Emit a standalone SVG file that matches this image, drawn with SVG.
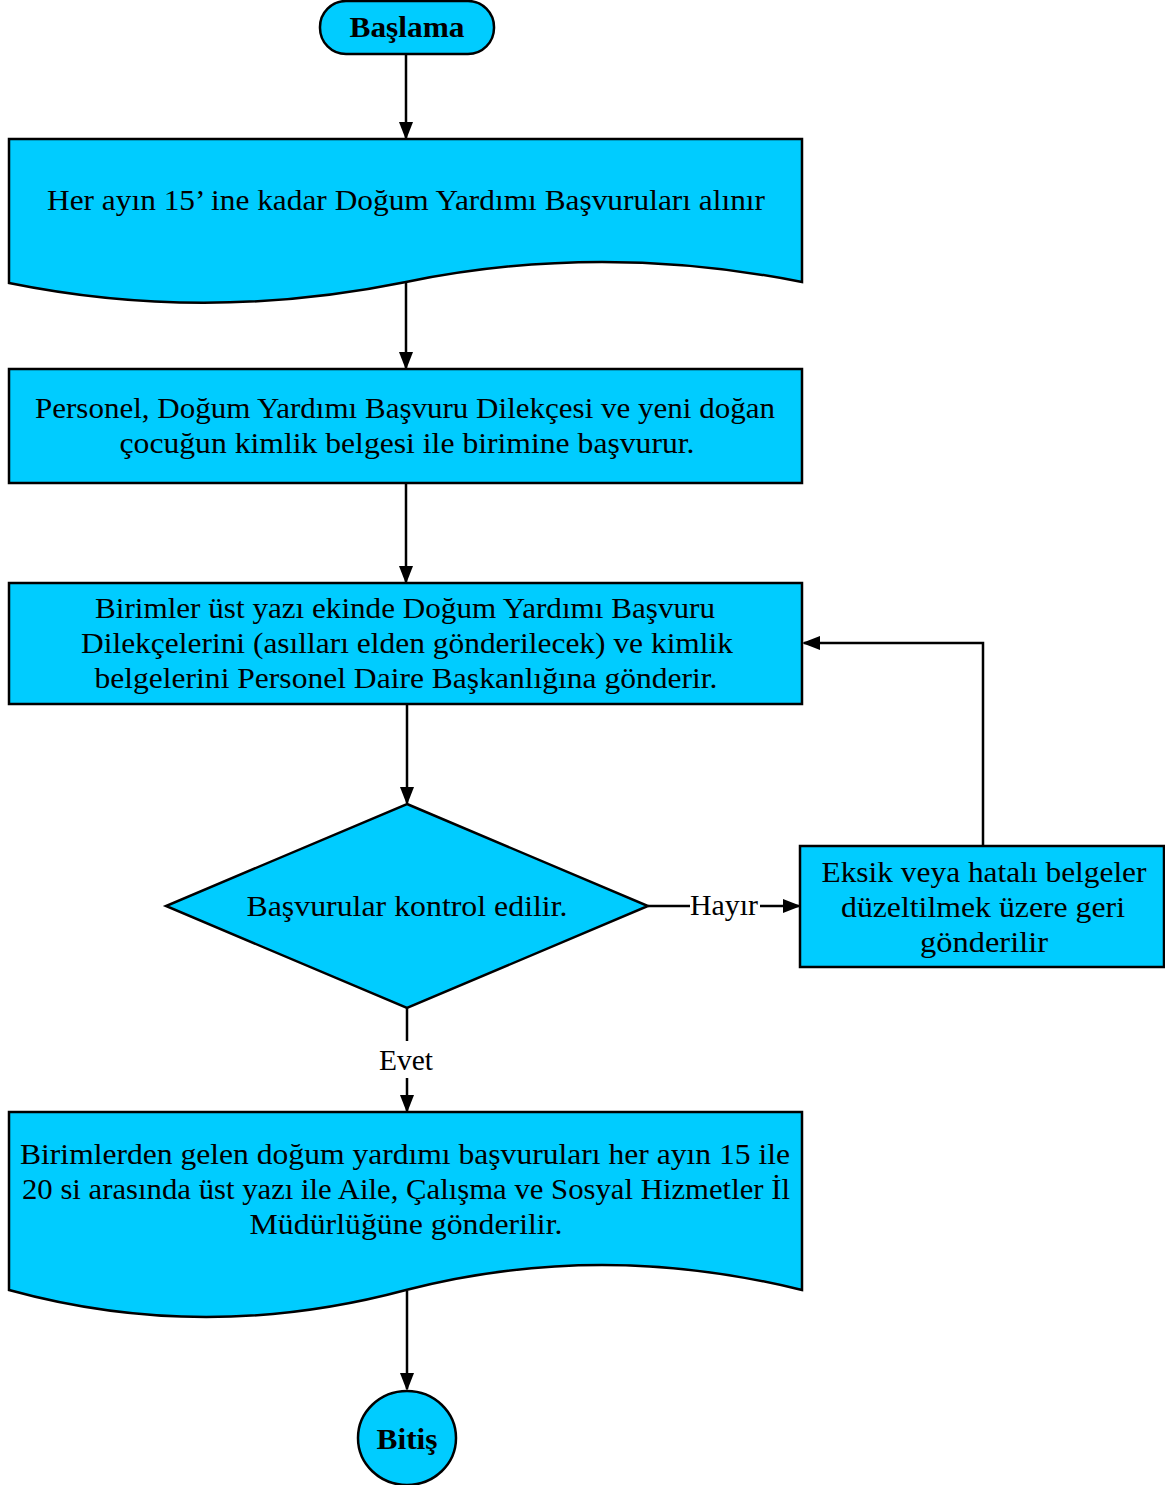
<svg xmlns="http://www.w3.org/2000/svg" width="1165" height="1485" viewBox="0 0 1165 1485">
<style>
.n{fill:#00CCFF;stroke:#000;stroke-width:2.5}
.t{font-family:"Liberation Serif","DejaVu Serif",serif;font-size:29px;fill:#000;text-anchor:middle}
.b{font-weight:bold}
.c{fill:none;stroke:#000;stroke-width:2.5}
</style>
<defs>
<marker id="ah" markerWidth="18" markerHeight="16" refX="16" refY="7" orient="auto" markerUnits="userSpaceOnUse" viewBox="0 0 18 14">
<path d="M0,0 L18,7 L0,14 Z" fill="#000"/>
</marker>
</defs>
<rect width="1165" height="1485" fill="#fff"/>
<g id="connectors">
<line class="c" x1="406" y1="55" x2="406" y2="138" marker-end="url(#ah)"/>
<line class="c" x1="406" y1="283" x2="406" y2="368" marker-end="url(#ah)"/>
<line class="c" x1="406" y1="484" x2="406" y2="582" marker-end="url(#ah)"/>
<line class="c" x1="407" y1="705" x2="407" y2="803" marker-end="url(#ah)"/>
<line class="c" x1="648" y1="906" x2="690" y2="906"/>
<line class="c" x1="760" y1="906" x2="799" y2="906" marker-end="url(#ah)"/>
<text class="t" x="724" y="915" textLength="68" lengthAdjust="spacingAndGlyphs">Hayır</text>
<polyline class="c" points="983,846 983,643 804,643" marker-end="url(#ah)"/>
<line class="c" x1="407" y1="1008" x2="407" y2="1041"/>
<text class="t" x="406" y="1070" textLength="54" lengthAdjust="spacingAndGlyphs">Evet</text>
<line class="c" x1="407" y1="1078" x2="407" y2="1111" marker-end="url(#ah)"/>
<line class="c" x1="407" y1="1291" x2="407" y2="1389" marker-end="url(#ah)"/>
</g>
<g id="start">
<rect class="n" x="320" y="1" width="174" height="53" rx="26" ry="26"/>
<text class="t b" x="407" y="37" textLength="115" lengthAdjust="spacingAndGlyphs">Başlama</text>
</g>
<g id="doc1">
<path class="n" d="M9,139 H802 V282 Q600,242 406,282 Q205,323 9,283 Z"/>
<text class="t" x="406" y="210" textLength="718" lengthAdjust="spacingAndGlyphs">Her ayın 15’ ine kadar Doğum Yardımı Başvuruları alınır</text>
</g>
<g id="box2">
<rect class="n" x="9" y="369" width="793" height="114"/>
<text class="t" x="405" y="418" textLength="740" lengthAdjust="spacingAndGlyphs">Personel, Doğum Yardımı Başvuru Dilekçesi ve yeni doğan</text>
<text class="t" x="407" y="453" textLength="575" lengthAdjust="spacingAndGlyphs">çocuğun kimlik belgesi ile birimine başvurur.</text>
</g>
<g id="box3">
<rect class="n" x="9" y="583" width="793" height="121"/>
<text class="t" x="405" y="618" textLength="620" lengthAdjust="spacingAndGlyphs">Birimler üst yazı ekinde Doğum Yardımı Başvuru</text>
<text class="t" x="407" y="653" textLength="652" lengthAdjust="spacingAndGlyphs">Dilekçelerini (asılları elden gönderilecek) ve kimlik</text>
<text class="t" x="406" y="688" textLength="623" lengthAdjust="spacingAndGlyphs">belgelerini Personel Daire Başkanlığına gönderir.</text>
</g>
<g id="decision">
<polygon class="n" points="407,804 648,906 407,1008 166,906"/>
<text class="t" x="407" y="916" textLength="321" lengthAdjust="spacingAndGlyphs">Başvurular kontrol edilir.</text>
</g>
<g id="box4">
<rect class="n" x="800" y="846" width="364" height="121"/>
<text class="t" x="984" y="882" textLength="325" lengthAdjust="spacingAndGlyphs">Eksik veya hatalı belgeler</text>
<text class="t" x="983" y="917" textLength="284" lengthAdjust="spacingAndGlyphs">düzeltilmek üzere geri</text>
<text class="t" x="984" y="952" textLength="128" lengthAdjust="spacingAndGlyphs">gönderilir</text>
</g>
<g id="doc5">
<path class="n" d="M9,1112 H802 V1290 Q600,1240 406,1290 Q205,1344 9,1290 Z"/>
<text class="t" x="405" y="1164" textLength="770" lengthAdjust="spacingAndGlyphs">Birimlerden gelen doğum yardımı başvuruları her ayın 15 ile</text>
<text class="t" x="406" y="1199" textLength="768" lengthAdjust="spacingAndGlyphs">20 si arasında üst yazı ile Aile, Çalışma ve Sosyal Hizmetler İl</text>
<text class="t" x="406" y="1234" textLength="313" lengthAdjust="spacingAndGlyphs">Müdürlüğüne gönderilir.</text>
</g>
<g id="end">
<ellipse class="n" cx="407" cy="1438" rx="49" ry="47"/>
<text class="t b" x="407" y="1449" textLength="61" lengthAdjust="spacingAndGlyphs">Bitiş</text>
</g>
</svg>
